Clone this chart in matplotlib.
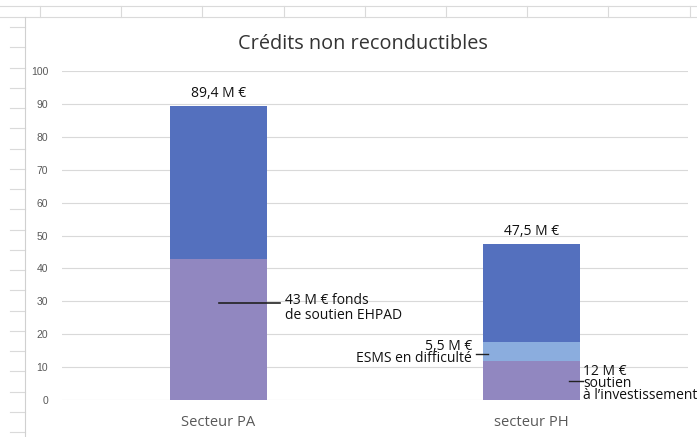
import matplotlib
matplotlib.use("Agg")
import matplotlib.pyplot as plt
import numpy as np

# ---- data ----
categories = ["Secteur PA", "secteur PH"]
bottom_vals = [43.0, 12.0]     # fonds de soutien EHPAD / soutien à l'investissement
middle_vals = [0.0, 5.5]       # ESMS en difficulté
top_vals = [46.4, 30.0]        # reste
totals = ["89,4 M €", "47,5 M €"]
yticks = [0, 10, 20, 30, 40, 50, 60, 70, 80, 90, 100]

W, H = 697, 437
fig = plt.figure(figsize=(W / 100, H / 100), dpi=100)
fig.patch.set_facecolor("white")

def fx(px):
    return px / W

def fy(py):
    return 1 - py / H

# ---- spreadsheet background ----
grid_c = "#dadada"
fig.add_artist(plt.Line2D([0, 1], [fy(6), fy(6)], color=grid_c, lw=0.8))
fig.add_artist(plt.Line2D([0, 1], [fy(17), fy(17)], color=grid_c, lw=0.8))
for xv in np.arange(40, 700, 81.2):
    fig.add_artist(plt.Line2D([fx(xv), fx(xv)], [fy(6), fy(17)], color=grid_c, lw=0.8))
for yv in np.arange(27, 437, 20.25):
    fig.add_artist(plt.Line2D([fx(10), fx(25)], [fy(yv), fy(yv)], color=grid_c, lw=0.8))
fig.add_artist(plt.Line2D([fx(25), fx(25)], [fy(17), 0], color="#d0d0d0", lw=0.8))

# ---- axes ----
ax = fig.add_axes([fx(62), fy(400), fx(688) - fx(62), fy(71) - fy(400)])
ax.set_facecolor("white")
x = np.arange(len(categories))
w = 0.31
c_bot = "#9187c0"
c_mid = "#8badde"
c_top = "#5470be"

bot = np.array(bottom_vals)
mid = np.array(middle_vals)
top = np.array(top_vals)
ax.bar(x, bot, w, color=c_bot, zorder=3)
ax.bar(x, mid, w, bottom=bot, color=c_mid, zorder=3)
ax.bar(x, top, w, bottom=bot + mid, color=c_top, zorder=3)

ax.set_xlim(-0.5, 1.5)
ax.set_ylim(0, 100)
ax.set_yticks(yticks)
ax.yaxis.grid(True, color="#d9d9d9", lw=0.8, zorder=0)
ax.set_axisbelow(True)
for s in ax.spines.values():
    s.set_visible(False)
ax.tick_params(axis="y", length=0, pad=10, labelsize=7.5, labelcolor="#595959")
for t in ax.get_yticklabels():
    t.set_fontfamily("Liberation Sans")
ax.set_xticks(x)
ax.set_xticklabels(categories)
ax.tick_params(axis="x", length=0, pad=11, labelsize=10.6, labelcolor="#595959")
for t in ax.get_xticklabels():
    t.set_fontfamily("Open Sans")

afont = "Open Sans"
fs = 10.0
# totals
for i, (t, v) in enumerate(zip(totals, bot + mid + top)):
    ax.annotate(t, (x[i], v), xytext=(0, 3.5), textcoords="offset points",
                ha="center", va="bottom", fontsize=fs, family=afont, color="#111111")

# leader lines + labels
ax.plot([0.0, 0.196], [29.5, 29.5], color="#222222", lw=1.2, zorder=4)
ax.text(0.212, 28.0, "43 M € fonds\nde soutien EHPAD", ha="left", va="center",
        fontsize=fs, family=afont, color="#111111", linespacing=0.95)

ax.plot([0.823, 0.861], [14.0, 14.0], color="#222222", lw=1.0, zorder=4)
ax.text(0.81, 14.3, "5,5 M €\nESMS en difficulté", ha="right", va="center",
        fontsize=fs, family=afont, color="#111111", linespacing=0.72)

ax.plot([1.12, 1.164], [5.8, 5.8], color="#222222", lw=1.0, zorder=4)
ax.text(1.164, 5.0, "12 M €\nsoutien\nà l’investissement", ha="left", va="center",
        fontsize=fs, family=afont, color="#111111", linespacing=0.72)

fig.text(fx(363), fy(44), "Crédits non reconductibles", ha="center", va="center",
         fontsize=14.3, family=afont, color="#333333")

fig.savefig("out.png", dpi=100)
